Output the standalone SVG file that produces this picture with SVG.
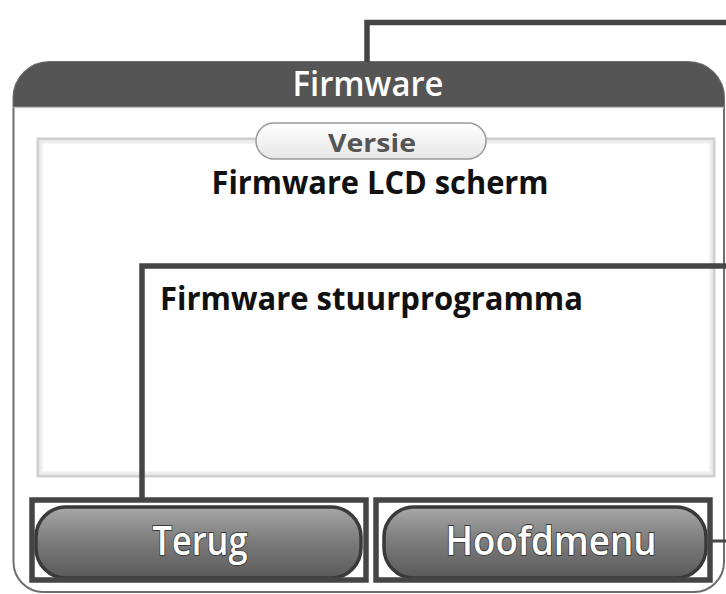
<svg xmlns="http://www.w3.org/2000/svg" width="726" height="594" viewBox="0 0 726 594">
<defs>
<linearGradient id="btn" x1="0" y1="0" x2="0" y2="1">
<stop offset="0" stop-color="#a8a8a8"/>
<stop offset="0.45" stop-color="#7e7e7e"/>
<stop offset="1" stop-color="#5a5a5a"/>
</linearGradient>
<linearGradient id="pill" x1="0" y1="0" x2="0" y2="1">
<stop offset="0" stop-color="#ffffff"/>
<stop offset="1" stop-color="#e6e6e6"/>
</linearGradient>
<style>
.call{fill:none;stroke:#454545;stroke-width:5.5;stroke-linejoin:miter}
.btn{fill:url(#btn);stroke:#3a3a3a;stroke-width:3.5}
.bt{font-family:"Open Sans","Liberation Sans",sans-serif;font-weight:600;font-size:40px;fill:#ffffff;stroke:#3a3a3a;stroke-width:1.8;paint-order:stroke;text-anchor:middle}
.dark{font-family:"Open Sans","Liberation Sans",sans-serif;font-weight:700;font-size:32px;fill:#111111}
</style>
</defs>
<rect width="726" height="594" fill="#ffffff"/>
<g id="panel">
<path d="M13.5,98 A36,36 0 0 1 49.5,62 L688,62 A36,36 0 0 1 724,98 L724,562 A30,30 0 0 1 694,592 L43.5,592 A30,30 0 0 1 13.5,562 Z" fill="#ffffff" stroke="#6e6e6e" stroke-width="2"/>
<path d="M13.5,107 L13.5,98 A36,36 0 0 1 49.5,62 L688,62 A36,36 0 0 1 724,98 L724,107 Z" fill="#555555"/>
<line x1="13.5" y1="107.5" x2="724" y2="107.5" stroke="#c0c0c0" stroke-width="1.5"/>
<text x="368" y="96" text-anchor="middle" font-family="Open Sans, Liberation Sans, sans-serif" font-weight="600" font-size="35" fill="#ffffff" textLength="151" lengthAdjust="spacingAndGlyphs">Firmware</text>
</g>
<g id="content">
<rect x="38" y="139" width="676" height="337" fill="#ffffff" stroke="#cfcfcf" stroke-width="3"/>
<rect x="41" y="142" width="670" height="331" fill="none" stroke="#ececec" stroke-width="3"/>
<text x="380" y="194" class="dark" text-anchor="middle" textLength="337" lengthAdjust="spacingAndGlyphs">Firmware LCD scherm</text>
<text x="160" y="310" class="dark" textLength="423" lengthAdjust="spacingAndGlyphs">Firmware stuurprogramma</text>
</g>
<g id="versie">
<rect x="256" y="123" width="230" height="36" rx="18" fill="url(#pill)" stroke="#9a9a9a" stroke-width="1.5"/>
<text x="372" y="152" text-anchor="middle" font-family="Open Sans, Liberation Sans, sans-serif" font-weight="700" font-size="25" fill="#555555" textLength="88" lengthAdjust="spacingAndGlyphs">Versie</text>
</g>
<g id="terug">
<rect x="36" y="507" width="325" height="71" rx="30" class="btn"/>
<text x="200" y="555" class="bt" textLength="95" lengthAdjust="spacingAndGlyphs">Terug</text>
</g>
<g id="hoofdmenu">
<rect x="384" y="507" width="322" height="71" rx="30" class="btn"/>
<text x="551" y="555" class="bt" textLength="211" lengthAdjust="spacingAndGlyphs">Hoofdmenu</text>
</g>
<g id="connectors">
<polyline class="call" points="367,62 367,22.5 726,22.5"/>
<polyline class="call" points="142,498 142,266 726,266"/>
<rect class="call" x="32" y="500" width="334" height="80"/>
<rect class="call" x="376" y="500" width="334" height="80"/>
<line x1="712" y1="541" x2="726" y2="541" stroke="#454545" stroke-width="3"/>
</g>
</svg>
